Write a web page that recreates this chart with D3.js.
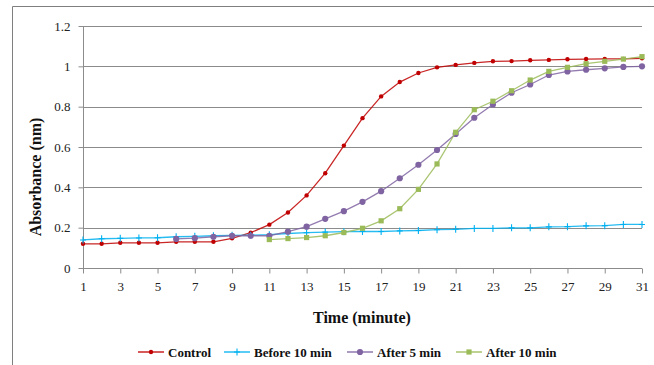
<!DOCTYPE html>
<html><head><meta charset="utf-8">
<script src="https://cdn.jsdelivr.net/npm/d3@7"></script>
<style>body{margin:0;background:#fff}svg{display:block}</style>
</head><body>
<svg id="c" width="654" height="365"></svg>
<script>
const minutes = d3.range(1, 32);
const control = [0.12,0.12,0.125,0.125,0.125,0.13,0.13,0.13,0.147,0.175,0.215,0.275,0.36,0.47,0.607,0.743,0.851,0.922,0.967,0.995,1.007,1.017,1.025,1.026,1.03,1.032,1.035,1.036,1.037,1.037,1.04];
const before10 = [0.139,0.145,0.147,0.149,0.15,0.155,0.157,0.16,0.162,0.163,0.165,0.171,0.175,0.178,0.18,0.181,0.181,0.184,0.186,0.19,0.192,0.196,0.196,0.199,0.199,0.204,0.205,0.209,0.21,0.216,0.216];
const after5 = [null,null,null,null,null,0.144,0.148,0.155,0.16,0.16,0.16,0.18,0.205,0.244,0.282,0.328,0.381,0.445,0.512,0.585,0.665,0.745,0.811,0.869,0.91,0.957,0.975,0.983,0.99,0.997,1.0];
const after10 = [null,null,null,null,null,null,null,null,null,null,0.141,0.146,0.151,0.16,0.176,0.197,0.234,0.294,0.39,0.516,0.673,0.785,0.827,0.879,0.932,0.975,0.995,1.013,1.025,1.036,1.048];
const yTicks = [0,0.2,0.4,0.6,0.8,1,1.2];
const yTickLabels = ["0","0.2","0.4","0.6","0.8","1","1.2"];
const xTicks = [1,3,5,7,9,11,13,15,17,19,21,23,25,27,29,31];
const seriesNames = ["Control","Before 10 min","After 5 min","After 10 min"];
const seriesColors = ["#C00000","#00B0F0","#8064A2","#9BBB59"];
const seriesMarkers = ["dot","plus","circle","square"];
const seriesData = [control, before10, after5, after10];

const svg = d3.select("#c");
const x = d3.scaleLinear().domain([1,31]).range([83,642]);
const y = d3.scaleLinear().domain([0,1.2]).range([268,26]);
const serif = "'Liberation Serif','Times New Roman',serif";

// outer frame
svg.append("path").attr("d","M12.5,365 V6.5 H654").attr("fill","none").attr("stroke","#7f7f7f").attr("stroke-width",1);

// gridlines
svg.append("g").selectAll("line").data(yTicks.filter(d=>d>0)).join("line")
  .attr("x1",83).attr("x2",642).attr("y1",d=>Math.round(y(d))+0.5).attr("y2",d=>Math.round(y(d))+0.5)
  .attr("stroke","#8c8c8c").attr("stroke-width",1);

// y axis
const yAxis = d3.axisLeft(y).tickValues(yTicks).tickFormat((d,i)=>yTickLabels[i]).tickSize(5).tickPadding(8);
const gy = svg.append("g").attr("transform","translate(83.5,0)").call(yAxis);
gy.select(".domain").attr("stroke","#8c8c8c").attr("d","M0,26V268");
gy.selectAll(".tick line").attr("stroke","#8c8c8c");
gy.selectAll(".tick text").attr("font-family",serif).attr("font-size",13).attr("fill","#222");

// x axis
const xAxis = d3.axisBottom(x).tickValues(xTicks).tickFormat(d3.format("d")).tickSize(5).tickPadding(8);
const gx = svg.append("g").attr("transform","translate(0,268.5)").call(xAxis);
gx.select(".domain").attr("stroke","#8c8c8c").attr("d","M83,0H642");
gx.selectAll(".tick line").attr("stroke","#8c8c8c");
gx.selectAll(".tick text").attr("font-family",serif).attr("font-size",13).attr("fill","#222");

// titles
svg.append("text").attr("transform","translate(41,177) rotate(-90)").attr("text-anchor","middle")
  .attr("font-family",serif).attr("font-weight","bold").attr("font-size",16).attr("fill","#111").text("Absorbance (nm)");
svg.append("text").attr("x",362).attr("y",323).attr("text-anchor","middle")
  .attr("font-family",serif).attr("font-weight","bold").attr("font-size",16).attr("fill","#111").text("Time (minute)");

function drawMarker(g, type, color, cx, cy){
  if(type==="dot") g.append("circle").attr("cx",cx).attr("cy",cy).attr("r",2.2).attr("fill",color);
  else if(type==="plus"){
    g.append("path").attr("d",`M${cx-3},${cy}H${cx+3}M${cx},${cy-3.5}V${cy+3.5}`).attr("stroke",color).attr("stroke-width",1.1);
  } else if(type==="circle") g.append("circle").attr("cx",cx).attr("cy",cy).attr("r",3.1).attr("fill",color);
  else if(type==="square") g.append("rect").attr("x",cx-2.6).attr("y",cy-2.6).attr("width",5.2).attr("height",5.2).attr("fill",color);
}

const line = d3.line().defined(d=>d.v!=null).x(d=>x(d.m)).y(d=>y(d.v));
seriesData.forEach((arr,i)=>{
  const pts = minutes.map((m,j)=>({m, v:arr[j]}));
  const g = svg.append("g");
  g.append("path").datum(pts).attr("d",line).attr("fill","none").attr("stroke",seriesColors[i]).attr("stroke-width",1.3).attr("stroke-opacity",0.85);
  pts.filter(d=>d.v!=null).forEach(d=>drawMarker(g, seriesMarkers[i], seriesColors[i], x(d.m), y(d.v)));
});

// legend
const legendX = [138,224,347,456];
const lg = svg.append("g");
seriesNames.forEach((n,i)=>{
  const lx = legendX[i], ly = 352;
  lg.append("line").attr("x1",lx).attr("x2",lx+26).attr("y1",ly).attr("y2",ly).attr("stroke",seriesColors[i]).attr("stroke-width",1.3);
  drawMarker(lg, seriesMarkers[i], seriesColors[i], lx+13, ly);
  lg.append("text").attr("x",lx+30).attr("y",ly+4.5).attr("font-family",serif).attr("font-weight","bold").attr("font-size",13).attr("fill","#111").text(n);
});
</script>
</body></html>
